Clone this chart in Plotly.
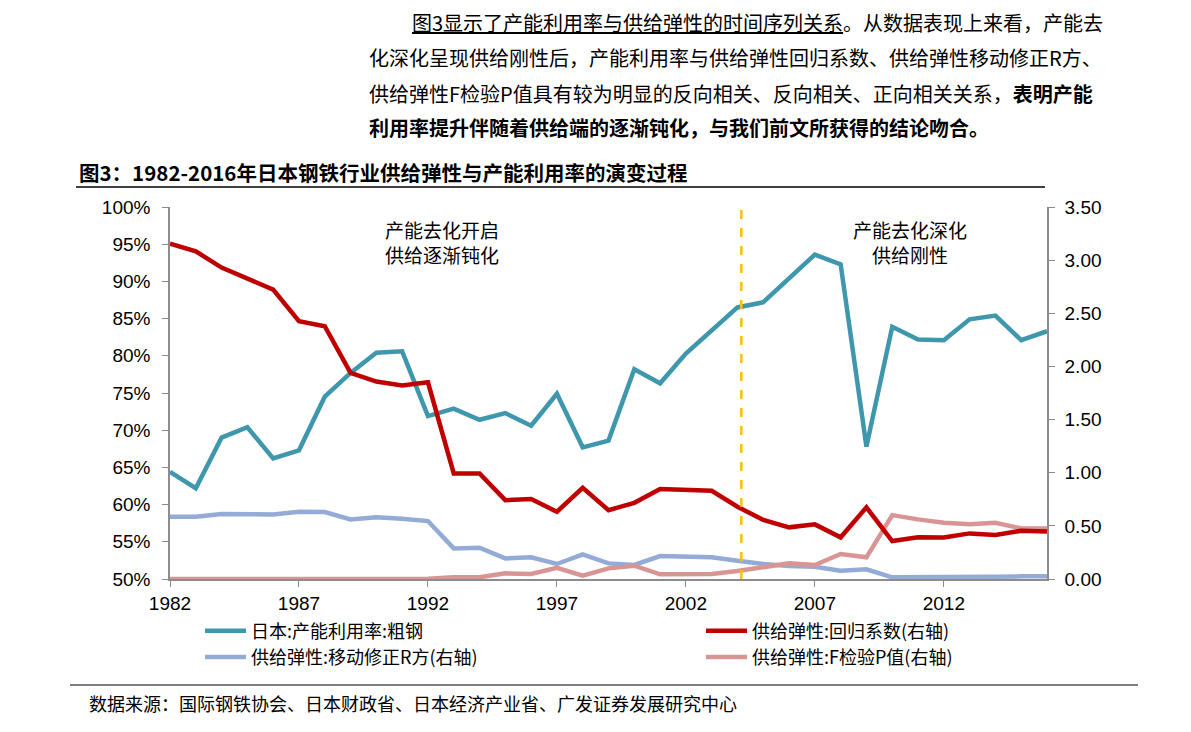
import plotly.graph_objects as go

years = list(range(1982, 2017))

utilization = [64.4, 62.2, 69.0, 70.4, 66.2, 67.3, 74.5, 77.7, 80.4, 80.6,
               71.9, 72.9, 71.4, 72.3, 70.6, 74.9, 67.7, 68.6, 78.2, 76.3,
               80.3, 83.4, 86.5, 87.2, 90.4, 93.6, 92.3, 67.8, 83.9, 82.2,
               82.1, 84.9, 85.4, 82.1, 83.3]

regression_coef = [3.155, 3.083, 2.93, 2.826, 2.723, 2.425, 2.378, 1.939, 1.858, 1.82,
                   1.851, 0.993, 0.993, 0.742, 0.752, 0.633, 0.858, 0.648, 0.717, 0.846,
                   0.842, 0.83, 0.68, 0.555, 0.486, 0.514, 0.392, 0.674, 0.357, 0.392,
                   0.39, 0.429, 0.414, 0.454, 0.448]

r_squared = [0.586, 0.586, 0.611, 0.611, 0.608, 0.633, 0.630, 0.561, 0.58, 0.567,
             0.545, 0.288, 0.294, 0.194, 0.204, 0.141, 0.232, 0.147, 0.132, 0.216,
             0.21, 0.205, 0.172, 0.141, 0.122, 0.116, 0.078, 0.091, 0.016, 0.02,
             0.02, 0.022, 0.022, 0.025, 0.025]

f_p_value = [0.0, 0.0, 0.0, 0.0, 0.0, 0.0, 0.0, 0.0, 0.0, 0.0,
             0.003, 0.016, 0.016, 0.053, 0.047, 0.106, 0.031, 0.1, 0.125, 0.044,
             0.044, 0.047, 0.075, 0.116, 0.147, 0.132, 0.235, 0.204, 0.601, 0.561,
             0.529, 0.514, 0.529, 0.476, 0.476]

boundary_year = 2004.15
x_ticks = [1982, 1987, 1992, 1997, 2002, 2007, 2012]
left_ticks = list(range(50, 101, 5))
left_tick_labels = [f"{v}%" for v in left_ticks]
right_ticks = [0, 0.5, 1.0, 1.5, 2.0, 2.5, 3.0, 3.5]
right_tick_labels = [f"{v:.2f}" for v in right_ticks]

names = ["日本:产能利用率:粗钢", "供给弹性:回归系数(右轴)",
         "供给弹性:移动修正R方(右轴)", "供给弹性:F检验P值(右轴)"]

CJK = "Noto Sans CJK SC"
LAT = "Liberation Sans, Arial, sans-serif"

fig = go.Figure()
fig.add_trace(go.Scatter(x=years, y=r_squared, name=names[2], yaxis="y2", mode="lines",
                         line=dict(color="#93ABD6", width=4.5), legend="legend"))
fig.add_trace(go.Scatter(x=years, y=f_p_value, name=names[3], yaxis="y2", mode="lines",
                         line=dict(color="#D99594", width=4.5), legend="legend2"))
fig.add_trace(go.Scatter(x=years, y=regression_coef, name=names[1], yaxis="y2", mode="lines",
                         line=dict(color="#C00000", width=4.5), legend="legend2"))
fig.add_trace(go.Scatter(x=years, y=utilization, name=names[0], mode="lines",
                         line=dict(color="#3F97AD", width=4.5), legend="legend"))

fig.add_shape(type="line", xref="x", yref="paper", x0=boundary_year, x1=boundary_year,
              y0=0, y1=1, line=dict(color="#FFC000", width=2.5, dash="dash"))

axis_common = dict(showgrid=False, zeroline=False, showline=True, linecolor="#8C8C8C",
                   linewidth=1.5, ticks="outside", ticklen=6, tickcolor="#8C8C8C",
                   tickfont=dict(family=LAT, size=19, color="#000"))

fig.update_layout(
    width=1191, height=732,
    margin=dict(l=170, r=144, t=207, b=153),
    paper_bgcolor="white", plot_bgcolor="white",
    font=dict(family=CJK, color="#000"),
    xaxis=dict(range=[1982, 2016], tickvals=x_ticks, **axis_common),
    yaxis=dict(range=[50, 100], tickvals=left_ticks, ticktext=left_tick_labels,
               ticklabelstandoff=8, **axis_common),
    yaxis2=dict(range=[0, 3.5], tickvals=right_ticks, ticktext=right_tick_labels,
                overlaying="y", side="right", ticklabelstandoff=6, **axis_common),
    legend=dict(x=(200 - 170) / 877, y=-0.09, xanchor="left", yanchor="top",
                orientation="v", itemwidth=41, traceorder="reversed",
                font=dict(family=CJK, size=18), bgcolor="rgba(0,0,0,0)"),
    legend2=dict(x=(701 - 170) / 877, y=-0.09, xanchor="left", yanchor="top",
                 orientation="v", itemwidth=41, traceorder="reversed",
                 font=dict(family=CJK, size=18), bgcolor="rgba(0,0,0,0)"),
    showlegend=True,
)

annos = [
    dict(text="<u>图3显示了产能利用率与供给弹性的时间序列关系</u>。从数据表现上来看，产能去",
         x=410, y=22),
    dict(text="化深化呈现供给刚性后，产能利用率与供给弹性回归系数、供给弹性移动修正R方、",
         x=367, y=58),
    dict(text="供给弹性F检验P值具有较为明显的反向相关、反向相关、正向相关关系，<b>表明产能</b>",
         x=367, y=93),
    dict(text="<b>利用率提升伴随着供给端的逐渐钝化，与我们前文所获得的结论吻合。</b>",
         x=367, y=128),
]
for a in annos:
    fig.add_annotation(text=a["text"], xref="paper", yref="paper",
                       x=(a["x"] - 170) / 877, y=(579 - a["y"]) / 372,
                       xanchor="left", yanchor="middle", showarrow=False,
                       font=dict(family=CJK, size=20, color="#000"))

fig.add_annotation(text="<b>图3：1982-2016年日本钢铁行业供给弹性与产能利用率的演变过程</b>",
                   xref="paper", yref="paper", x=(77 - 170) / 877, y=(579 - 172) / 372,
                   xanchor="left", yanchor="middle", showarrow=False,
                   font=dict(family=CJK, size=20.5, color="#000"))

fig.add_annotation(text="产能去化开启<br>供给逐渐钝化", xref="paper", yref="paper",
                   x=(442 - 170) / 877, y=(579 - 242) / 372, xanchor="center", yanchor="middle",
                   showarrow=False, font=dict(family=CJK, size=19, color="#000"))
fig.add_annotation(text="产能去化深化<br>供给刚性", xref="paper", yref="paper",
                   x=(910 - 170) / 877, y=(579 - 242) / 372, xanchor="center", yanchor="middle",
                   showarrow=False, font=dict(family=CJK, size=19, color="#000"))

fig.add_annotation(text="数据来源：国际钢铁协会、日本财政省、日本经济产业省、广发证券发展研究中心",
                   xref="paper", yref="paper", x=(87 - 170) / 877, y=(579 - 703) / 372,
                   xanchor="left", yanchor="middle", showarrow=False,
                   font=dict(family=CJK, size=18, color="#000"))

fig.add_shape(type="line", xref="paper", yref="paper",
              x0=(76 - 170) / 877, x1=(1045 - 170) / 877,
              y0=(579 - 187) / 372, y1=(579 - 187) / 372, line=dict(color="#000", width=1.5))
fig.add_shape(type="line", xref="paper", yref="paper",
              x0=(70 - 170) / 877, x1=(1138 - 170) / 877,
              y0=(579 - 685) / 372, y1=(579 - 685) / 372, line=dict(color="#555", width=1.5))

fig.write_html("out.html", config={"displayModeBar": False},
               post_script="document.body.style.margin='0';")
